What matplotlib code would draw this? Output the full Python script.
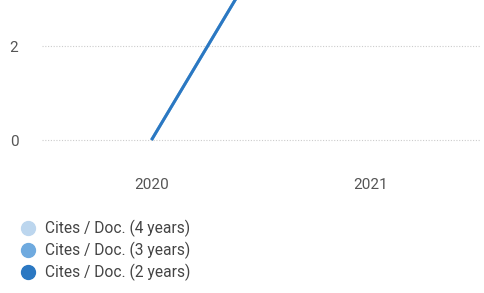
import matplotlib
matplotlib.use("Agg")
import matplotlib.pyplot as plt
from matplotlib.lines import Line2D

years = ["2020", "2021"]
cites_4y = [0, 7.8]
cites_3y = [0, 7.8]
cites_2y = [0, 7.8]
labels = ["Cites / Doc. (4 years)", "Cites / Doc. (3 years)", "Cites / Doc. (2 years)"]
colors = ["#bcd6ee", "#6faadf", "#2b78c2"]

plt.rcParams["font.family"] = ["Roboto", "DejaVu Sans"]

fig = plt.figure(figsize=(4.85, 2.93), dpi=100)
ax = fig.add_axes([42 / 485, 1 - 142 / 293, 438 / 485, 142 / 293])

x = list(range(len(years)))
for vals, c in zip([cites_4y, cites_3y, cites_2y], colors):
    ax.plot(x, vals, color=c, linewidth=2.1, solid_capstyle="butt")

ax.set_xlim(-0.5, len(years) - 0.5)
ax.set_ylim(-2 / 47, 140 / 47)
ax.set_yticks([0, 2])
ax.set_xticks(x)
ax.set_xticklabels(years)
ax.tick_params(axis="both", length=0, labelsize=11, colors="#555555")
ax.tick_params(axis="x", pad=26)
ax.tick_params(axis="y", pad=17)
ax.grid(axis="y", color="#cccccc", linestyle=(0, (1, 1.5)), linewidth=0.8)
ax.set_axisbelow(True)
for s in ax.spines.values():
    s.set_visible(False)

handles = [Line2D([], [], marker="o", linestyle="none", markersize=10,
                  markerfacecolor=c, markeredgecolor=c) for c in colors]
fig.legend(handles, labels, loc="upper left", bbox_to_anchor=(0.025, 0.27),
           frameon=False, fontsize=11.2, handletextpad=0.5, labelspacing=0.3,
           labelcolor="#444444", borderaxespad=0, handlelength=1.2)

fig.savefig("out.png", dpi=100)
